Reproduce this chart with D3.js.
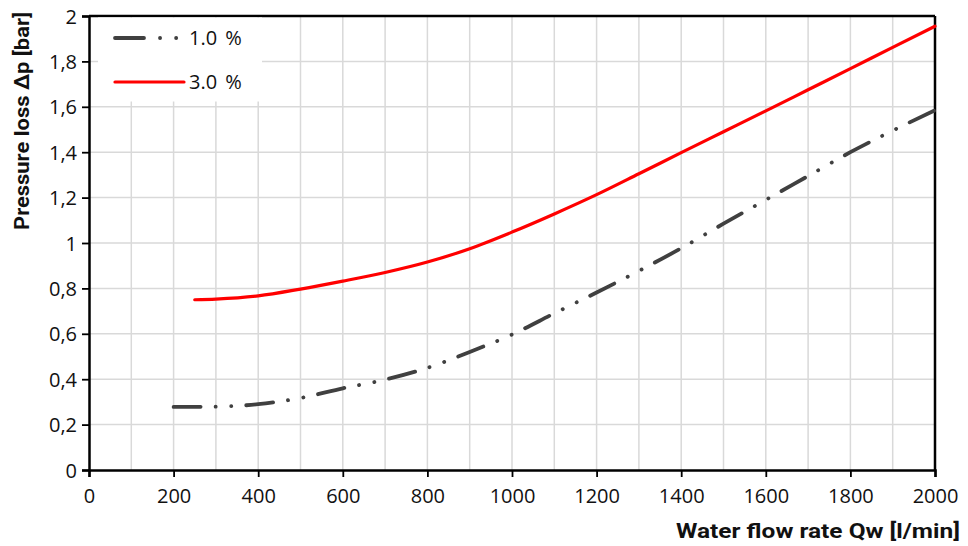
<!DOCTYPE html>
<html><head><meta charset="utf-8">
<script src="https://cdn.jsdelivr.net/npm/d3@7"></script>
<style>
html,body{margin:0;padding:0;background:#fff;}
svg{display:block;}
.tick text{font-family:"Open Sans",Lato,sans-serif;font-size:20px;fill:#111;}
</style></head>
<body>
<svg id="chart" width="968" height="546"></svg>
<script>
const xTicks = [0,200,400,600,800,1000,1200,1400,1600,1800,2000];
const yTicks = [0,0.2,0.4,0.6,0.8,1,1.2,1.4,1.6,1.8,2];
const seriesNames = ["1.0 %","3.0 %"];
const flow1 = [200,300,400,500,600,700,800,900,1000,1100,1200,1300,1400,1500,1600,1700,1800,1900,2000];
const loss1 = [0.278,0.279,0.29,0.317,0.36,0.398,0.45,0.52,0.597,0.69,0.782,0.877,0.977,1.085,1.19,1.295,1.4,1.495,1.585];
const flow3 = [250,300,400,500,600,700,800,900,1000,1100,1200,1300,1400,1500,1600,1700,1800,1900,2000];
const loss3 = [0.75,0.753,0.767,0.797,0.832,0.87,0.916,0.975,1.048,1.128,1.213,1.305,1.398,1.49,1.582,1.675,1.768,1.862,1.955];

const svg = d3.select("#chart");
const L=89, R=935, T=16, B=470;
const x = d3.scaleLinear().domain([0,2000]).range([L,R]);
const y = d3.scaleLinear().domain([0,2]).range([B,T]);

// grid
const grid = svg.append("g");
grid.selectAll("line.v").data(d3.range(100,2000,100)).enter().append("line")
  .attr("x1",d=>x(d)).attr("x2",d=>x(d)).attr("y1",T).attr("y2",B)
  .attr("stroke","#d9d9d9").attr("stroke-width",1.5);
grid.selectAll("line.h").data(yTicks.slice(1,-1)).enter().append("line")
  .attr("x1",L).attr("x2",R).attr("y1",d=>y(d)).attr("y2",d=>y(d))
  .attr("stroke","#d9d9d9").attr("stroke-width",1.5);

// frame top/right
svg.append("line").attr("x1",L).attr("x2",R).attr("y1",T).attr("y2",T).attr("stroke","#000").attr("stroke-width",2.5);
svg.append("line").attr("x1",R).attr("x2",R).attr("y1",T).attr("y2",B).attr("stroke","#000").attr("stroke-width",2.5);

// axes
const fmtY = d => String(d).replace(".",",");
const xAxis = svg.append("g").attr("transform",`translate(0,${B})`)
  .call(d3.axisBottom(x).tickValues(xTicks).tickSize(7).tickPadding(12).tickFormat(d3.format("d")));
const yAxis = svg.append("g").attr("transform",`translate(${L},0)`)
  .call(d3.axisLeft(y).tickValues(yTicks).tickSize(7).tickPadding(5).tickFormat(fmtY));
[xAxis,yAxis].forEach(a=>{
  a.select(".domain").attr("stroke","#000").attr("stroke-width",2.5);
  a.selectAll(".tick line").attr("stroke","#000").attr("stroke-width",1.8);
});
yAxis.selectAll(".tick text").attr("dy","0.35em");

// lines
const line = d3.line().x(d=>x(d[0])).y(d=>y(d[1])).curve(d3.curveMonotoneX);
const d1 = flow1.map((f,i)=>[f,loss1[i]]);
const d3s = flow3.map((f,i)=>[f,loss3[i]]);
const dashPat = "27 15 0.1 15.5 0.1 15";
svg.append("path").datum(d1).attr("d",line).attr("fill","none")
  .attr("stroke","#404040").attr("stroke-width",3.8).attr("stroke-linecap","round")
  .attr("stroke-dasharray",dashPat);
svg.append("path").datum(d3s).attr("d",line).attr("fill","none")
  .attr("stroke","#ff0000").attr("stroke-width",3.2).attr("stroke-linecap","round");

// legend
const lg = svg.append("g");
lg.append("rect").attr("x",98).attr("y",T+1.5).attr("width",164).attr("height",84).attr("fill","#fff");
lg.append("line").attr("x1",115).attr("x2",185).attr("y1",38).attr("y2",38)
  .attr("stroke","#404040").attr("stroke-width",3.8).attr("stroke-linecap","round")
  .attr("stroke-dasharray","29 16 0.1 16 0.1 30");
lg.append("line").attr("x1",115).attr("x2",184).attr("y1",82).attr("y2",82)
  .attr("stroke","#ff0000").attr("stroke-width",3.2).attr("stroke-linecap","round");
lg.selectAll("text").data(seriesNames).enter().append("text")
  .attr("x",189).attr("y",(d,i)=>i?82:38).attr("dy","0.35em")
  .attr("font-family","'Open Sans',Lato,sans-serif").attr("font-size",20).attr("fill","#111")
  .attr("word-spacing",3)
  .text(d=>d);

// axis titles
svg.append("text").attr("transform","translate(29,12) rotate(-90)")
  .attr("text-anchor","end").attr("font-family","Roboto,sans-serif")
  .attr("font-weight","bold").attr("font-size",20).attr("fill","#111")
  .attr("textLength",218).attr("lengthAdjust","spacingAndGlyphs")
  .text("Pressure loss  Δp [bar]");
svg.append("text").attr("x",960).attr("y",538).attr("text-anchor","end")
  .attr("font-family","Roboto,sans-serif")
  .attr("font-weight","bold").attr("font-size",20).attr("fill","#111")
  .attr("textLength",284).attr("lengthAdjust","spacingAndGlyphs")
  .text("Water flow rate Qw [l/min]");
</script>
</body></html>
